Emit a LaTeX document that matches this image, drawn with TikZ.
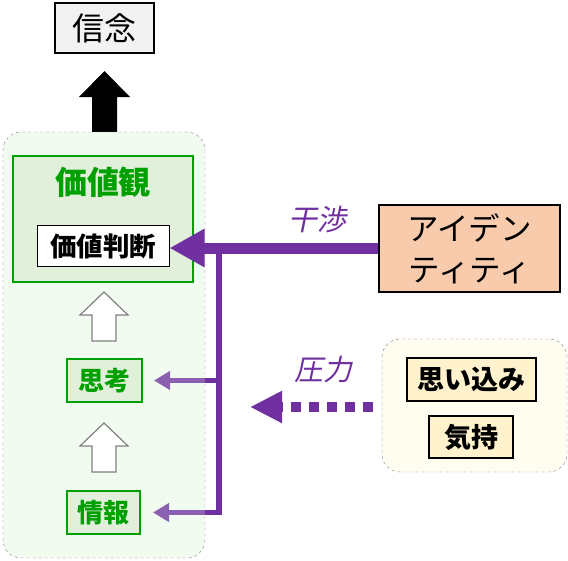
\documentclass[tikz,border=0pt]{standalone}
\usepackage{fontspec}
\newfontfamily\jp{Noto Sans CJK JP}
\newfontfamily\jpsl[FakeSlant=0.2]{Noto Sans CJK JP}
\usetikzlibrary{arrows.meta}
\definecolor{kgreen}{RGB}{0,160,0}
\definecolor{kpale}{RGB}{226,239,218}
\definecolor{kmind}{RGB}{242,251,239}
\definecolor{kpurple}{RGB}{112,48,160}
\definecolor{klilac}{RGB}{140,96,176}
\definecolor{kpeach}{RGB}{248,203,173}
\definecolor{kcream}{RGB}{255,242,204}
\definecolor{kfeel}{RGB}{255,253,240}

\begin{document}
\begin{tikzpicture}[x=1pt,y=-1pt,
  every node/.style={inner sep=0pt,font=\jp},
  blackbox/.style={draw=black,line width=1.5pt},
  greenbox/.style={draw=kgreen,fill=kpale,line width=2pt},
  dashbox/.style={draw=gray,dashed,rounded corners=18pt},
  hollow/.style={draw=gray,line width=1.2pt,fill=white},
  bigflow/.style={kpurple,line width=11pt,-{Triangle[length=35pt,width=36pt]}},
  smallflow/.style={klilac,line width=5.5pt,-{Triangle[length=16pt,width=18pt]}},
  stub/.style={kpurple,line width=5.5pt},
  tag/.style={text=kpurple,font=\jpsl\fontsize{29}{30}\selectfont}]
\useasboundingbox (0,0) rectangle (568,560);

% top
\node[blackbox,fill=black!5,minimum width=99pt,minimum height=50pt,
  font=\jp\fontsize{32}{34}\selectfont] (shinnen) at (104.5,28) {信念};
\fill[black] (104.5,71) -- ++(25.5,26) -- ++(-13,0) -- ++(0,36) -- ++(-25,0)
  -- ++(0,-36) -- ++(-13,0) -- cycle;

% left side
\node[dashbox,fill=kmind,minimum width=202pt,minimum height=426pt] (mind) at (104,345) {};
\node[greenbox,minimum width=180pt,minimum height=126pt] (kachikan) at (103,219) {};
\node[text=kgreen,font=\jp\bfseries\fontsize{32}{34}\selectfont] (kantext) at (103,182) {価値観};
\node[draw=black,line width=1pt,fill=white,minimum width=132pt,minimum height=41pt,
  font=\jp\bfseries\fontsize{26.5}{28}\selectfont] (handan) at (103,246) {価値判断};
\node[greenbox,minimum width=75pt,minimum height=43pt,text=kgreen,
  font=\jp\bfseries\fontsize{26}{28}\selectfont] (shikou) at (104.5,380.5) {思考};
\node[greenbox,minimum width=73pt,minimum height=43pt,text=kgreen,
  font=\jp\bfseries\fontsize{26}{28}\selectfont] (jouhou) at (103.5,512.5) {情報};
\draw[hollow] (104,292) -- ++(24,23) -- ++(-12,0) -- ++(0,26) -- ++(-24,0)
  -- ++(0,-26) -- ++(-12,0) -- cycle;
\draw[hollow] (104,423) -- ++(24,23) -- ++(-12,0) -- ++(0,26) -- ++(-24,0)
  -- ++(0,-26) -- ++(-12,0) -- cycle;

% right side
\node[blackbox,fill=kpeach,minimum width=181pt,minimum height=87pt,align=center,
  font=\jp\fontsize{31.5}{41}\selectfont] (ident) at (469.5,248.5) {アイデン\\ティティ};
\node[dashbox,fill=kfeel,minimum width=185pt,minimum height=133pt] (feel) at (474.5,405.5) {};
\node[blackbox,fill=kcream,minimum width=129pt,minimum height=43pt,
  font=\jp\bfseries\fontsize{27}{28}\selectfont] (omoi) at (471.5,379.5) {思い込み};
\node[blackbox,fill=kcream,minimum width=84pt,minimum height=42pt,
  font=\jp\bfseries\fontsize{27}{28}\selectfont] (kimochi) at (471,437) {気持};

% flows
\coordinate (jn) at (219,248);
\coordinate (press) at (250,407);
\draw[stub] (jn) -- (jn |- jouhou.east) -- (jouhou.east -| mind.east);
\draw[stub] (jn |- shikou.east) -- (shikou.east -| mind.east);
\draw[smallflow,shorten >=11pt] (shikou.east -| mind.east) -- (shikou.east);
\draw[smallflow,shorten >=12pt] (jouhou.east -| mind.east) -- (jouhou.east);
\draw[bigflow] (ident.west |- jn) -- (jn -| handan.east);
\draw[kpurple,line width=10pt,dash pattern=on 10pt off 8pt,shorten <=9pt,
  -{Triangle[length=32pt,width=30pt]}] (feel.west |- press) -- (press);
\node[tag] (kanshou) at (317,220) {干渉};
\node[tag] (atsuryoku) at (323,370) {圧力};
\end{tikzpicture}
\end{document}
